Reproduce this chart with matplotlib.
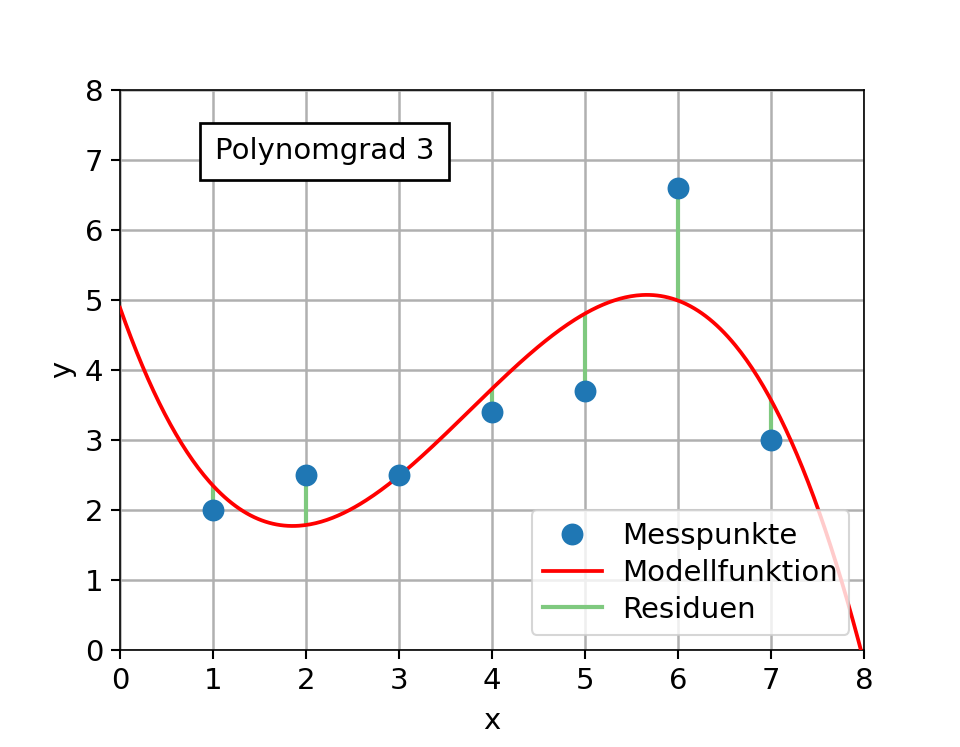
import numpy as np
import matplotlib.pyplot as plt

x_mess = [1, 2, 3, 4, 5, 6, 7]
y_mess = [2.0, 2.5, 2.5, 3.4, 3.7, 6.6, 3.0]
grad = 3

koeff = np.polyfit(x_mess, y_mess, grad)
x_modell = np.linspace(0, 8, 400)
y_modell = np.polyval(koeff, x_modell)
y_fit = np.polyval(koeff, x_mess)

plt.rcParams["font.size"] = 14

fig = plt.figure(figsize=(6.4, 4.98), dpi=150)
ax = fig.add_axes([0.125, 0.13, 0.775, 0.75])

ax.vlines(x_mess, y_fit, y_mess, color="#7fc97f", lw=2, zorder=2)
ax.plot([], [], color="#7fc97f", lw=2, label="Residuen")
ax.plot(x_modell, y_modell, color="red", lw=1.8, label="Modellfunktion", zorder=3)
ax.plot(x_mess, y_mess, "o", color="C0", ms=9.5, label="Messpunkte", zorder=4)

h, l = ax.get_legend_handles_labels()
order = [2, 1, 0]
ax.legend([h[i] for i in order], [l[i] for i in order], loc="lower right",
          fontsize=14, labelspacing=0.3, handletextpad=0.7)

ax.text(2.2, 7.12, f"Polynomgrad {grad}", ha="center", va="center", fontsize=14,
        bbox=dict(boxstyle="square,pad=0.5", fc="white", ec="black", lw=1.3))

ax.set_xlim(0, 8)
ax.set_ylim(0, 8)
ax.set_xlabel("x", fontsize=14, labelpad=6)
ax.set_ylabel("y", fontsize=14)
ax.tick_params(labelsize=14, length=4.5, width=1)
ax.grid(True, color="#b0b0b0", lw=1.2)
ax.set_axisbelow(True)

fig.savefig("out.png", dpi=150)
